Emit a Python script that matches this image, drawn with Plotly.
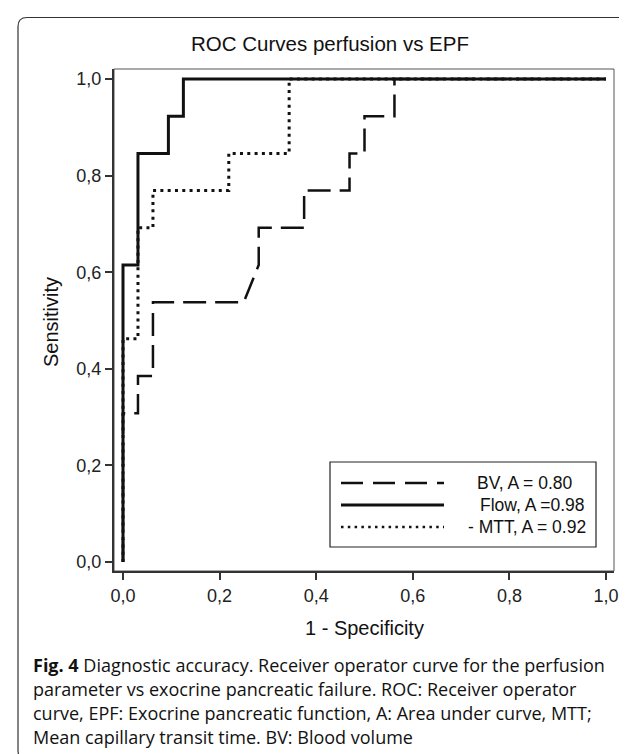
import plotly.graph_objects as go

# ---------------- data ----------------
bv_fpr = [0.0, 0.0, 0.031, 0.031, 0.062, 0.062, 0.25, 0.281, 0.281, 0.375, 0.375,
          0.469, 0.469, 0.5, 0.5, 0.562, 0.562, 1.0]
bv_tpr = [0.0, 0.308, 0.308, 0.385, 0.385, 0.538, 0.538, 0.615, 0.692, 0.692, 0.769,
          0.769, 0.846, 0.846, 0.923, 0.923, 1.0, 1.0]

flow_fpr = [0.0, 0.0, 0.031, 0.031, 0.094, 0.094, 0.125, 0.125, 1.0]
flow_tpr = [0.0, 0.615, 0.615, 0.846, 0.846, 0.923, 0.923, 1.0, 1.0]

mtt_fpr = [0.0, 0.0, 0.031, 0.031, 0.062, 0.062, 0.219, 0.219, 0.344, 0.344, 1.0]
mtt_tpr = [0.0, 0.462, 0.462, 0.692, 0.692, 0.769, 0.769, 0.846, 0.846, 1.0, 1.0]

legend_labels = ["BV, A = 0.80", "Flow, A =0.98", "- MTT, A = 0.92"]
tick_vals = [0.0, 0.2, 0.4, 0.6, 0.8, 1.0]

title_text = "ROC Curves perfusion vs EPF"
x_title = "1 - Specificity"
y_title = "Sensitivity"
caption_lines = [
    "<b>Fig. 4</b> Diagnostic accuracy. Receiver operator curve for the perfusion",
    "parameter vs exocrine pancreatic failure. ROC: Receiver operator",
    "curve, EPF: Exocrine pancreatic function, A: Area under curve, MTT;",
    "Mean capillary transit time. BV: Blood volume",
]

# ---------------- layout helpers (pixel -> paper) ----------------
W, H = 627, 754
PL, PR, PT, PB = 106, 606, 61, 563  # plot-area pixel box


def px(x):
    return (x - PL) / (PR - PL)


def py(y):
    return (PB - y) / (PB - PT)


FONT = "Liberation Sans, Arial, sans-serif"
INK = "#111111"

fig = go.Figure()

fig.add_trace(go.Scatter(x=bv_fpr, y=bv_tpr, mode="lines", showlegend=False,
                         line=dict(color=INK, width=2.5, dash="23px,9px")))
fig.add_trace(go.Scatter(x=flow_fpr, y=flow_tpr, mode="lines", showlegend=False,
                         line=dict(color=INK, width=3)))
fig.add_trace(go.Scatter(x=mtt_fpr, y=mtt_tpr, mode="lines", showlegend=False,
                         line=dict(color=INK, width=3, dash="3px,4.3px")))

axis_common = dict(
    tickvals=tick_vals, tickformat=".1f", ticks="outside", ticklen=7, tickwidth=1.5,
    tickcolor="#333333", showline=True, linecolor="#333333", linewidth=2, mirror=False,
    showgrid=False, zeroline=False, tickfont=dict(family=FONT, size=18, color="#222222"),
)

fig.update_layout(
    width=W, height=H,
    margin=dict(l=PL, r=W - PR, t=PT, b=H - PB, autoexpand=False),
    paper_bgcolor="white", plot_bgcolor="white",
    separators=",.",
    showlegend=False,
    title=dict(text=title_text, x=322 / W, xref="container", xanchor="center",
               y=1 - 36 / H, yref="container", yanchor="middle",
               font=dict(family=FONT, size=20.5, color="#111111")),
    xaxis=dict(range=[(PL - 115) / 483, (PR - 115) / 483], **axis_common),
    yaxis=dict(range=[-(PB - 554) / 483, (554 - PT) / 483], **axis_common),
)

annotations = []
# axis titles
annotations.append(dict(text=x_title, x=px(356), y=py(620), xref="paper", yref="paper",
                        showarrow=False, xanchor="center", yanchor="middle",
                        font=dict(family=FONT, size=20, color="#111111")))
annotations.append(dict(text=y_title, x=px(43), y=py(314), xref="paper", yref="paper",
                        showarrow=False, xanchor="center", yanchor="middle", textangle=-90,
                        font=dict(family=FONT, size=20, color="#111111")))

shapes = []
# thin plot frame (top / right)
shapes.append(dict(type="rect", xref="paper", yref="paper", x0=0, x1=1, y0=0, y1=1,
                   line=dict(color="#555555", width=1), layer="below"))

# legend box contents
leg_y = [475, 497, 519]
leg_x = [467, 470, 458]
leg_dash = ["22px,10px", "solid", "2.5px,4.3px"]
leg_w = [2.5, 3, 2.5]
shapes.append(dict(type="rect", xref="paper", yref="paper", x0=px(322), x1=px(588),
                   y0=py(539), y1=py(454), line=dict(color="#222222", width=1.2),
                   fillcolor="white", layer="above"))
for lab, yy, xx, dsh, lw in zip(legend_labels, leg_y, leg_x, leg_dash, leg_w):
    shapes.append(dict(type="line", xref="paper", yref="paper", x0=px(333), x1=px(436),
                       y0=py(yy), y1=py(yy), line=dict(color=INK, width=lw, dash=dsh),
                       layer="above"))
    annotations.append(dict(text=lab, x=px(xx), y=py(yy), xref="paper", yref="paper",
                            showarrow=False, xanchor="left", yanchor="middle",
                            font=dict(family=FONT, size=17.5, color="#111111")))

# caption
cap_y = [657, 681, 705, 729]
for line, yy in zip(caption_lines, cap_y):
    annotations.append(dict(text=line, x=px(23), y=py(yy), xref="paper", yref="paper",
                            showarrow=False, xanchor="left", yanchor="middle", align="left",
                            font=dict(family="Open Sans, Noto Sans, sans-serif", size=18,
                                      color="#111111")))

# outer rounded frame
x0, x1, y0, y1 = px(10), px(625.5), py(9.5), py(752)
rx = 9 / (PR - PL)
ry = 9 / (PB - PT)
path = (f"M {x0 + rx},{y0} L {x1 - rx},{y0} Q {x1},{y0} {x1},{y0 - ry} "
        f"L {x1},{y1 + ry} Q {x1},{y1} {x1 - rx},{y1} L {x0 + rx},{y1} "
        f"Q {x0},{y1} {x0},{y1 + ry} L {x0},{y0 - ry} Q {x0},{y0} {x0 + rx},{y0} Z")
shapes.append(dict(type="path", xref="paper", yref="paper", path=path,
                   line=dict(color="#333333", width=1.2), layer="below"))

fig.update_layout(annotations=annotations, shapes=shapes)

fig.write_html("out.html")
